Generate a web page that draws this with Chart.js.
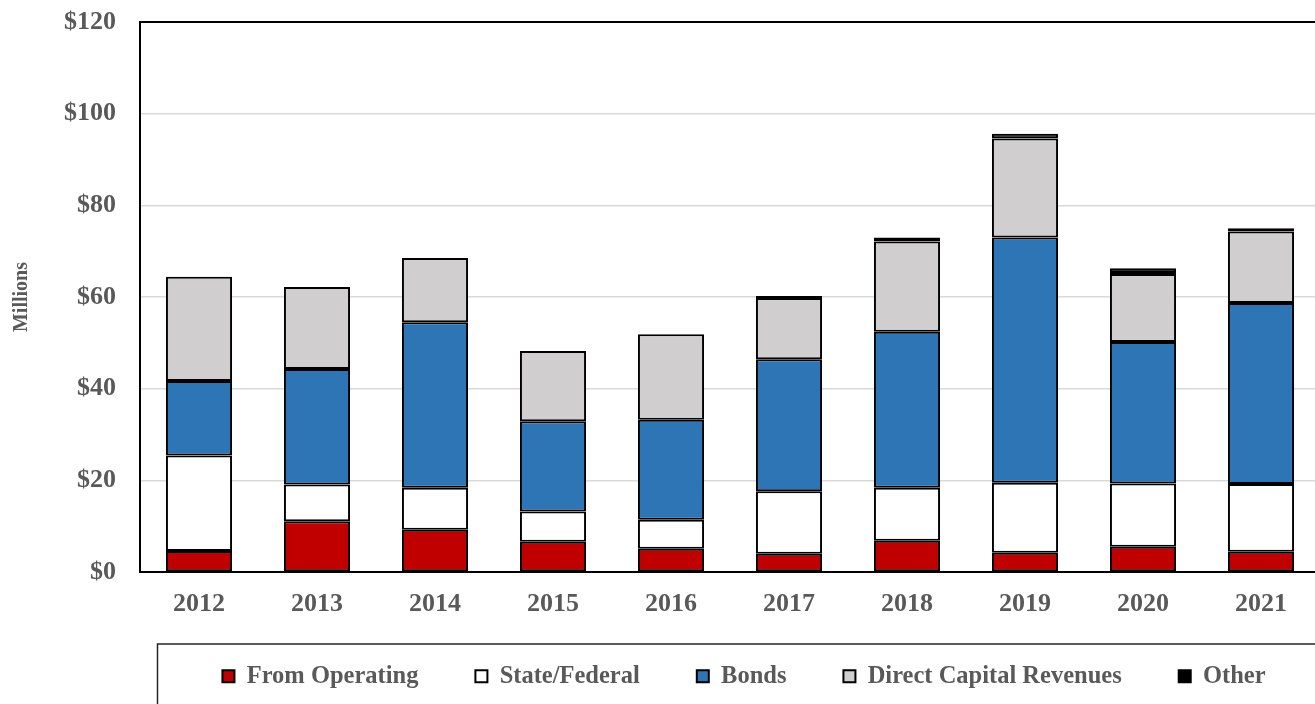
<!DOCTYPE html>
<html>
<head>
<meta charset="utf-8">
<script src="https://cdn.jsdelivr.net/npm/chart.js@4"></script>
<style>
html,body{margin:0;padding:0;background:#fff;overflow:hidden;}
#wrap{position:relative;width:1320px;height:704px;}
</style>
</head>
<body>
<div id="wrap"><canvas id="c"></canvas></div>
<script>
const years = ['2012','2013','2014','2015','2016','2017','2018','2019','2020','2021'];
const fromOperating = [4.6, 11.1, 9.2, 6.6, 5.1, 4.0, 6.8, 4.2, 5.5, 4.4];
const stateFederal = [20.8, 8.0, 9.2, 6.6, 6.3, 13.6, 11.6, 15.3, 13.8, 14.8];
const bonds = [16.3, 25.2, 36.1, 19.7, 21.8, 28.8, 34.0, 53.5, 30.9, 39.5];
const directCapital = [22.7, 17.9, 14.0, 15.3, 18.7, 13.4, 19.7, 21.6, 14.8, 15.6];
const other = [null, null, null, null, null, 0.4, 0.9, 1.0, 1.3, 0.7];
const yTicks = [0, 20, 40, 60, 80, 100, 120];

const FONT = 'Liberation Serif, Times New Roman, serif';
const TXT = '#595959';

const legendFix = {
  id: 'legendFix',
  beforeLayout(chart) {
    const lg = chart.legend;
    if (lg && !lg._patched) {
      const orig = lg.fit.bind(lg);
      lg.fit = function () { orig(); this.height = 62; };
      lg._patched = true;
    }
  },
  afterLayout(chart) {
    const lg = chart.legend;
    if (!lg) return;
    const pad = lg.options.labels.padding;
    lg.top = 664 - pad;
    lg.left = -12;
    lg.right = 1500;
  },
  beforeDraw(chart) {
    const ctx = chart.ctx;
    ctx.save();
    ctx.strokeStyle = '#262626';
    ctx.lineWidth = 1.5;
    ctx.strokeRect(157.5, 644, 1200, 100);
    ctx.restore();
  },
  afterDatasetsDraw(chart) {
    const a = chart.chartArea;
    const ctx = chart.ctx;
    ctx.save();
    ctx.strokeStyle = '#000';
    ctx.lineWidth = 2;
    ctx.beginPath();
    ctx.moveTo(a.left, a.top);
    ctx.lineTo(a.right + 5, a.top);
    ctx.stroke();
    ctx.restore();
  }
};

const mk = (label, data, color) => ({
  label, data,
  backgroundColor: color,
  borderColor: '#000',
  borderWidth: 2,
  borderSkipped: false,
  barPercentage: 0.56,
  categoryPercentage: 1.0
});

new Chart(document.getElementById('c'), {
  type: 'bar',
  data: {
    labels: years,
    datasets: [
      mk('From Operating', fromOperating, '#C00000'),
      mk('State/Federal', stateFederal, '#FFFFFF'),
      mk('Bonds', bonds, '#2E75B6'),
      mk('Direct Capital Revenues', directCapital, '#D0CECE'),
      mk('Other', other, '#000000')
    ]
  },
  options: {
    responsive: true,
    maintainAspectRatio: false,
    animation: false,
    layout: { padding: { top: 22, left: 0, right: 0, bottom: 0 } },
    plugins: {
      tooltip: { enabled: false },
      legend: {
        position: 'bottom',
        labels: {
          boxWidth: 12,
          boxHeight: 12,
          padding: 57,
          color: TXT,
          font: { family: FONT, size: 24.5, weight: 'bold' }
        }
      }
    },
    scales: {
      x: {
        stacked: true,
        grid: { display: false },
        border: { display: true, color: '#000', width: 2 },
        ticks: { color: TXT, padding: 9, font: { family: FONT, size: 26, weight: 'bold' } },
        afterFit(s) { s.height = 70; }
      },
      y: {
        stacked: true,
        min: 0, max: 120,
        afterBuildTicks(s) { s.ticks = yTicks.map(v => ({ value: v })); },
        grid: { color: '#D9D9D9', lineWidth: 1.5, drawTicks: false },
        border: { display: true, color: '#000', width: 2 },
        ticks: {
          color: TXT, padding: 24,
          font: { family: FONT, size: 26, weight: 'bold' },
          callback: v => '$' + v
        },
        title: {
          display: true, text: 'Millions', color: TXT,
          padding: { top: 10, bottom: 0 },
          font: { family: FONT, size: 20, weight: 'bold' }
        },
        afterFit(s) { s.width = 140; s.paddingTop = 0; s.paddingBottom = 0; }
      }
    }
  },
  plugins: [legendFix]
});
</script>
</body>
</html>
